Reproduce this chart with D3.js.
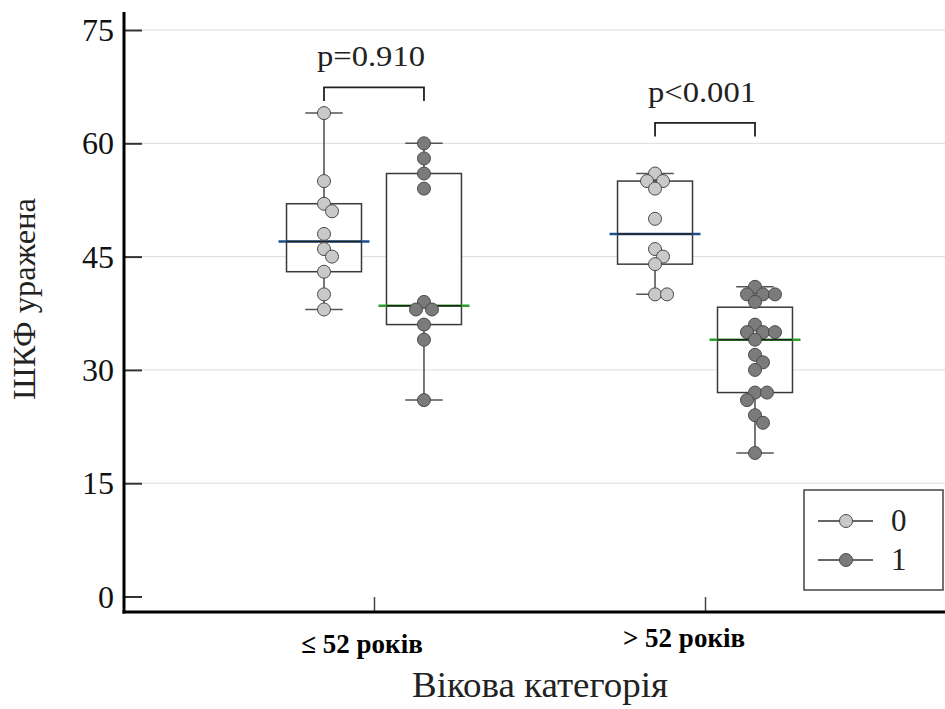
<!DOCTYPE html>
<html>
<head>
<meta charset="utf-8">
<script src="https://cdn.jsdelivr.net/npm/d3@7"></script>
<style>
  body { margin: 0; background: #fff; }
</style>
</head>
<body>
<svg id="chart" width="945" height="709"></svg>
<script>
// age categories and the two groups
const categories = ["≤ 52 років", "> 52 років"];
const groups = ["0", "1"];

// raw points per category, per group
const young0 = [64, 55, 52, 51, 48, 46, 45, 43, 40, 38];
const young1 = [60, 58, 56, 54, 39, 38, 38, 36, 34, 26];
const old0 = [56, 55, 55, 54, 50, 46, 45, 44, 40, 40];
const old1 = [41, 40, 40, 40, 39, 36, 35, 35, 35, 34, 32, 31, 30, 27, 27, 26, 24, 23, 19];

// box stats (q1, median, q3)
const q1s = [[43, 36], [44, 27]];
const medians = [[47, 38.5], [48, 34]];
const q3s = [[52, 56], [55, 38.3]];

const pLabels = ["p=0.910", "p<0.001"];
const bracketLevels = [67.4, 62.7];

const yTicks = [0, 15, 30, 45, 60, 75];

const points = [[young0, young1], [old0, old1]];

const fills = { "0": "#c9c9c9", "1": "#7b7b7b" };
const medianColors = { "0": "#1d4f8c", "1": "#2e9e2e" };

const serif = '"Liberation Serif", "Times New Roman", serif';

const svg = d3.select("#chart");
const axisLeftX = 124, axisBottomY = 612, rightEdge = 945;

const y = d3.scaleLinear().domain([0, 75]).range([596.5, 30]);

const x = d3.scalePoint()
    .domain(categories)
    .range([134, rightEdge])
    .padding(0.725);

const inner = d3.scaleBand()
    .domain(groups)
    .range([-x.step() * 0.302, x.step() * 0.302]);

const boxW = inner.bandwidth() * 0.75;
const r = 6.5;

// grid
svg.append("g").selectAll("line")
    .data(yTicks.filter(t => t > 0))
    .join("line")
    .attr("x1", axisLeftX + 18)
    .attr("x2", rightEdge)
    .attr("y1", d => y(d))
    .attr("y2", d => y(d))
    .attr("stroke", "#dcdcdc")
    .attr("stroke-width", 1);

// y axis, ticks pointing into the plot
const yAxis = d3.axisLeft(y).tickValues(yTicks).tickSizeInner(-18).tickSizeOuter(0).tickPadding(10);
const gy = svg.append("g").attr("transform", `translate(${axisLeftX},0)`).call(yAxis);
gy.select(".domain").remove();
gy.selectAll(".tick line").attr("stroke", "#333").attr("stroke-width", 2);
gy.selectAll(".tick text")
    .style("font-family", serif)
    .attr("font-size", 32)
    .attr("fill", "#111")
    .attr("dy", "0.33em");

// x axis
const xAxis = d3.axisBottom(x).tickSizeInner(-15).tickSizeOuter(0).tickFormat("");
const gx = svg.append("g").attr("transform", `translate(0,${axisBottomY})`).call(xAxis);
gx.select(".domain").remove();
gx.selectAll(".tick line").attr("stroke", "#444").attr("stroke-width", 1.5);

svg.append("line")
    .attr("x1", axisLeftX).attr("x2", axisLeftX)
    .attr("y1", 12).attr("y2", axisBottomY + 1.5)
    .attr("stroke", "#000").attr("stroke-width", 3);
svg.append("line")
    .attr("x1", axisLeftX - 1.5).attr("x2", rightEdge)
    .attr("y1", axisBottomY).attr("y2", axisBottomY)
    .attr("stroke", "#000").attr("stroke-width", 3);

// category labels, bold, sitting a bit left of the ticks
const labelShift = [[-12, 653], [-21, 647]];
svg.append("g").selectAll("text")
    .data(categories)
    .join("text")
    .attr("x", (d, i) => x(d) + labelShift[i][0])
    .attr("y", (d, i) => labelShift[i][1])
    .attr("text-anchor", "middle")
    .style("font-family", serif)
    .attr("font-weight", "bold")
    .attr("font-size", 27)
    .attr("fill", "#000")
    .text(d => d);

svg.append("text")
    .attr("x", 540).attr("y", 697)
    .attr("text-anchor", "middle")
    .style("font-family", serif)
    .attr("font-size", 35)
    .attr("textLength", 256)
    .attr("lengthAdjust", "spacingAndGlyphs")
    .attr("fill", "#222")
    .text("Вікова категорія");

svg.append("text")
    .attr("transform", "translate(35,299) rotate(-90)")
    .attr("text-anchor", "middle")
    .style("font-family", serif)
    .attr("font-size", 32)
    .attr("textLength", 202)
    .attr("lengthAdjust", "spacingAndGlyphs")
    .attr("fill", "#222")
    .text("ШКФ уражена");

// simple beeswarm dodge
const swarm = (vals) => {
    const placed = [];
    return vals.map(v => {
        const cy = y(v);
        let off = 0;
        for (let k = 0; k < 80; k++) {
            const cand = (k % 2 ? 1 : -1) * Math.ceil(k / 2) * 2;
            const ok = placed.every(p => Math.hypot(p.dx - cand, p.cy - cy) >= 11);
            if (ok) { off = cand; break; }
        }
        const p = { v, cy, dx: off };
        placed.push(p);
        return p;
    });
};

categories.forEach((cat, ci) => {
    groups.forEach((grp, gi) => {
        const vals = points[ci][gi];
        const cx = x(cat) + inner(grp) + inner.bandwidth() / 2;
        const g = svg.append("g");
        const lo = d3.min(vals), hi = d3.max(vals);

        // whisker
        g.append("line")
            .attr("x1", cx).attr("x2", cx)
            .attr("y1", y(hi)).attr("y2", y(lo))
            .attr("stroke", "#4a4a4a").attr("stroke-width", 1.5);
        [lo, hi].forEach(w => g.append("line")
            .attr("x1", cx - boxW / 4).attr("x2", cx + boxW / 4)
            .attr("y1", y(w)).attr("y2", y(w))
            .attr("stroke", "#555").attr("stroke-width", 1.5));

        // box
        g.append("rect")
            .attr("x", cx - boxW / 2)
            .attr("y", y(q3s[ci][gi]))
            .attr("width", boxW)
            .attr("height", y(q1s[ci][gi]) - y(q3s[ci][gi]))
            .attr("fill", "#fff")
            .attr("stroke", "#3a3a3a")
            .attr("stroke-width", 1.5);

        // median: coloured tips outside the box
        const my = y(medians[ci][gi]);
        g.append("line")
            .attr("x1", cx - boxW / 2 - 8).attr("x2", cx + boxW / 2 + 8)
            .attr("y1", my).attr("y2", my)
            .attr("stroke", medianColors[grp]).attr("stroke-width", 2.5);
        g.append("line")
            .attr("x1", cx - boxW / 2).attr("x2", cx + boxW / 2)
            .attr("y1", my).attr("y2", my)
            .attr("stroke", "#222").attr("stroke-width", 1.5);

        g.selectAll("circle")
            .data(swarm(vals))
            .join("circle")
            .attr("cx", d => cx + d.dx)
            .attr("cy", d => d.cy)
            .attr("r", r)
            .attr("fill", fills[grp])
            .attr("stroke", "#4a4a4a")
            .attr("stroke-width", 1);
    });

    // p-value bracket
    const xa = x(cat) + inner(groups[0]) + inner.bandwidth() / 2;
    const xb = x(cat) + inner(groups[1]) + inner.bandwidth() / 2;
    const by = y(bracketLevels[ci]);
    svg.append("path")
        .attr("d", `M${xa},${by + 13.5}V${by}H${xb}V${by + 13.5}`)
        .attr("fill", "none")
        .attr("stroke", "#222")
        .attr("stroke-width", 1.8);
    svg.append("text")
        .attr("x", (xa + xb) / 2 - 3)
        .attr("y", by - 21)
        .attr("text-anchor", "middle")
        .style("font-family", serif)
        .attr("font-size", 29)
        .attr("textLength", 108)
        .attr("lengthAdjust", "spacingAndGlyphs")
        .attr("fill", "#222")
        .text(pLabels[ci]);
});

// legend
const legend = svg.append("g");
legend.append("rect")
    .attr("x", 804).attr("y", 490)
    .attr("width", 139).attr("height", 100)
    .attr("fill", "#fff")
    .attr("stroke", "#444")
    .attr("stroke-width", 1.5);
const items = legend.selectAll(".item")
    .data(groups)
    .join("g")
    .attr("class", "item")
    .attr("transform", (d, i) => `translate(0,${521 + i * 39})`);
items.append("line")
    .attr("x1", 818).attr("x2", 873)
    .attr("stroke", "#333").attr("stroke-width", 1.5);
items.append("circle")
    .attr("cx", 846).attr("r", r)
    .attr("fill", d => fills[d])
    .attr("stroke", "#4a4a4a");
items.append("text")
    .attr("x", 891).attr("dy", "0.33em")
    .style("font-family", serif)
    .attr("font-size", 31)
    .attr("fill", "#222")
    .text(d => d);
</script>
</body>
</html>
